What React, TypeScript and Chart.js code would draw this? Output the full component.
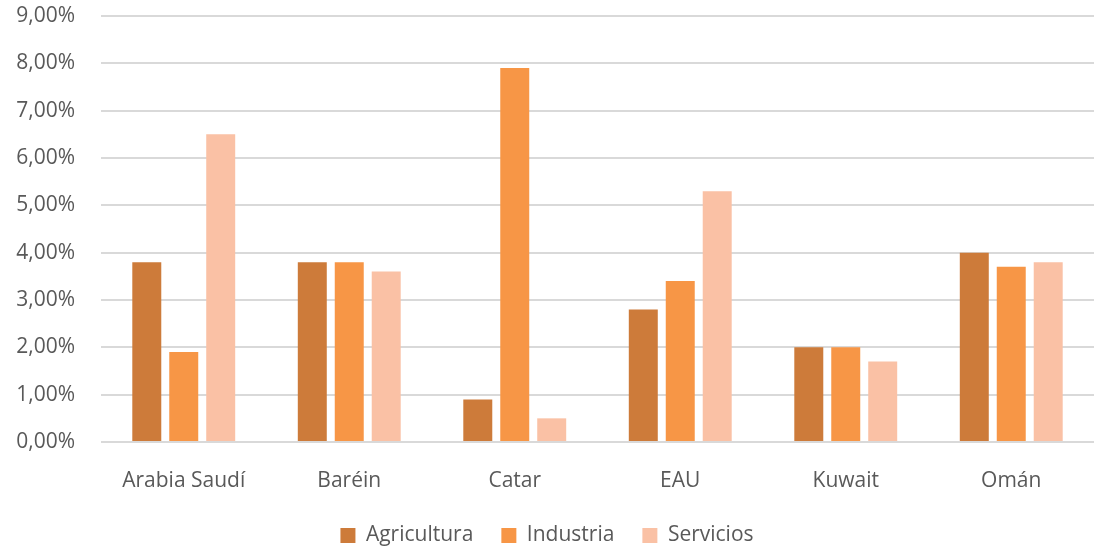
import React, { useEffect, useRef } from "react";
import { Chart, registerables } from "chart.js";

Chart.register(...registerables);

const categories = ["Arabia Saudí", "Baréin", "Catar", "EAU", "Kuwait", "Omán"];
const agricultura = [3.8, 3.8, 0.9, 2.8, 2.0, 4.0];
const industria = [1.9, 3.8, 7.9, 3.4, 2.0, 3.7];
const servicios = [6.5, 3.6, 0.5, 5.3, 1.7, 3.8];
const seriesNames = ["Agricultura", "Industria", "Servicios"];
const seriesColors = ["#CD7B3A", "#F79646", "#FAC1A5"];

export default function App() {
  const ref = useRef<HTMLCanvasElement | null>(null);
  useEffect(() => {
    if (!ref.current) return;
    const font = { family: "'Open Sans', sans-serif", size: 21 };
    const chart = new Chart(ref.current, {
      type: "bar",
      data: {
        labels: categories,
        datasets: [agricultura, industria, servicios].map((d, i) => ({
          label: seriesNames[i],
          data: d,
          backgroundColor: seriesColors[i],
          barPercentage: 0.784,
          categoryPercentage: 0.67,
        })),
      },
      options: {
        animation: false,
        responsive: false,
        maintainAspectRatio: false,
        layout: { padding: { top: 16, right: 0, left: 0, bottom: -9 } },
        plugins: {
          tooltip: { enabled: false },
          legend: {
            position: "bottom",
            labels: {
              color: "#595959",
              font,
              boxWidth: 15,
              boxHeight: 15,
              padding: 28,
            },
          },
        },
        scales: {
          x: {
            grid: { display: false },
            border: { display: false },
            ticks: { color: "#595959", font, padding: 18 },
            afterFit: (s: any) => {
              s.height = 55;
            },
          },
          y: {
            min: 0,
            max: 9,
            border: { display: false },
            grid: { color: "#D9D9D9", lineWidth: 2, drawTicks: false },
            ticks: {
              stepSize: 1,
              color: "#595959",
              font,
              padding: 26,
              callback: (v: any) => Number(v).toFixed(2).replace(".", ",") + "%",
            },
            afterFit: (s: any) => {
              s.width = 101;
              s.paddingTop = 0;
              s.paddingBottom = 0;
            },
          },
        },
      },
    });
    return () => chart.destroy();
  }, []);
  return (
    <div style={{ position: "fixed", left: 0, top: 0, width: 1094, height: 547, background: "#fff" }}>
      <canvas ref={ref} width={1094} height={547} style={{ width: 1094, height: 547 }} />
    </div>
  );
}
